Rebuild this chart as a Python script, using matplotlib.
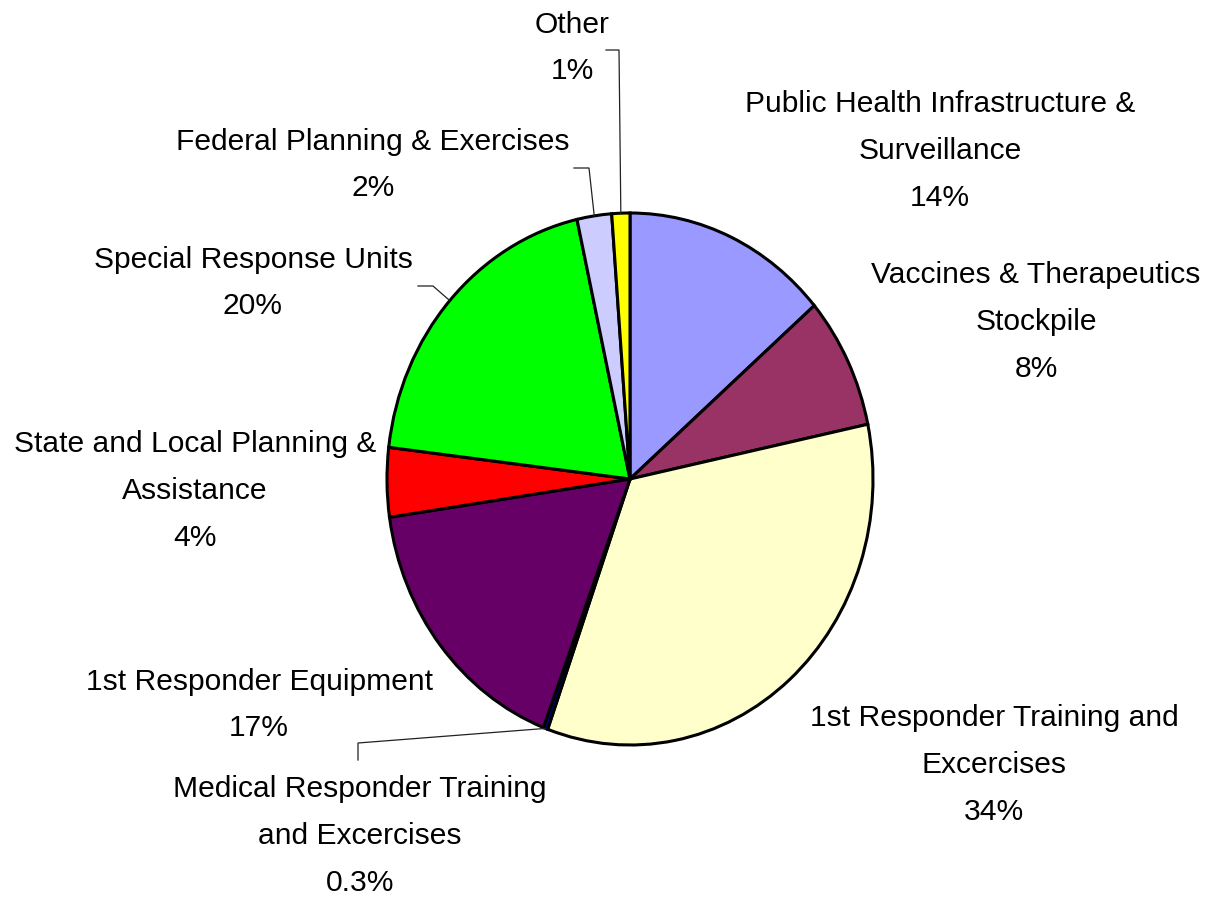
import numpy as np
import matplotlib
matplotlib.use("Agg")
from matplotlib import pyplot as plt

plt.rcParams['font.family'] = ['Liberation Sans', 'DejaVu Sans']

categories = ["Public Health Infrastructure &\nSurveillance",
              "Vaccines & Therapeutics\nStockpile",
              "1st Responder Training and\nExcercises",
              "Medical Responder Training\nand Excercises",
              "1st Responder Equipment",
              "State and Local Planning &\nAssistance",
              "Special Response Units",
              "Federal Planning & Exercises",
              "Other"]
shares = [13.7, 8.0, 33.8, 0.3, 16.9, 4.2, 19.6, 2.3, 1.2]
pct_labels = ["14%", "8%", "34%", "0.3%", "17%", "4%", "20%", "2%", "1%"]
colors = ["#9999FF", "#993366", "#FFFFCC", "#000080", "#660066",
          "#FF0000", "#00FF00", "#CCCCFF", "#FFFF00"]

W, H = 1213, 898
RX, RY = 243, 266          # pie is drawn slightly taller than wide
SY = RX / RY               # y data units per pixel

fig = plt.figure(figsize=(W / 100, H / 100), dpi=100)
ax = fig.add_axes([0, 0, 1, 1])

def py(y):
    # pixel row (from top) -> data y
    return (H - y) * SY

cx, cy, r = 630, py(479), RX
wedges, _ = ax.pie(shares, colors=colors, startangle=90, counterclock=False,
                   center=(cx, cy), radius=r, frame=True,
                   wedgeprops=dict(edgecolor='black', linewidth=2.2))
ax.set_aspect('auto')
ax.set_xlim(0, W)
ax.set_ylim(0, H * SY)
ax.axis('off')

# label centres in pixel coords (x, y from top)
label_pos = [(940, 151), (1036, 322), (994, 765), (360, 836), (259, 705),
             (195, 491), (253, 283), (373, 165), (572, 48)]
for cat, pct, (x, y) in zip(categories, pct_labels, label_pos):
    ax.text(x, py(y), cat + "\n" + pct, ha='center', va='center',
            fontsize=21.6, linespacing=1.85, color='black')

def edge_point(w, frac=0.5):
    ang = np.deg2rad(w.theta1 + (w.theta2 - w.theta1) * frac)
    return cx + r * np.cos(ang), cy + r * np.sin(ang)

# leader lines: wedge index -> bend points (pixel coords from top)
leaders = {8: [(619, 50), (606, 50)],
           7: [(589, 168), (574, 168)],
           6: [(433, 286), (418, 286)],
           3: [(358, 743), (358, 760)]}
for i, pts in leaders.items():
    x0, y0 = edge_point(wedges[i])
    xs = [x0] + [p[0] for p in pts]
    ys = [y0] + [py(p[1]) for p in pts]
    ax.plot(xs, ys, color='#222222', linewidth=0.9)

plt.savefig("out.png", dpi=100)
